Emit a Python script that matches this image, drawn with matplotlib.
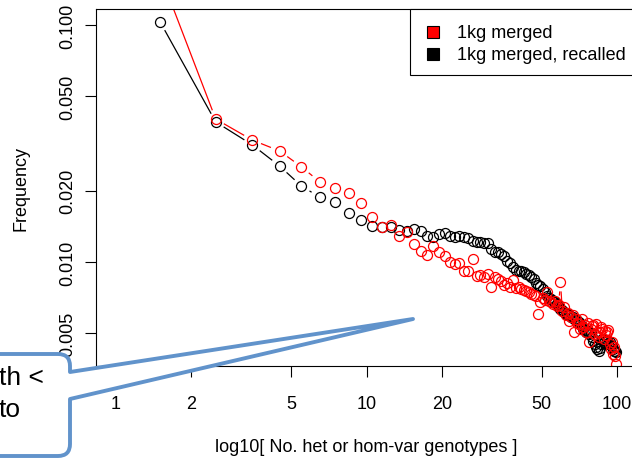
import numpy as np
import matplotlib
matplotlib.use("Agg")
import matplotlib.pyplot as plt
from matplotlib.path import Path
from matplotlib.patches import PathPatch, Rectangle

plt.rcParams['font.family'] = ['Liberation Sans', 'DejaVu Sans']

# ---- data ----
x_vals = [1.5, 2.5, 3.5, 4.5, 5.5, 6.5, 7.5, 8.5, 9.5, 10.5,
          11.5, 12.5, 13.5, 14.5, 15.5, 16.5, 17.5, 18.5, 19.5, 20.5,
          21.5, 22.5, 23.5, 24.5, 25.5, 26.5, 27.5, 28.5, 29.5, 30.5,
          31.5, 32.5, 33.5, 34.5, 35.5, 36.5, 37.5, 38.5, 39.5, 40.5,
          41.5, 42.5, 43.5, 44.5, 45.5, 46.5, 47.5, 48.5, 49.5, 50.5,
          51.5, 52.5, 53.5, 54.5, 55.5, 56.5, 57.5, 58.5, 59.5, 60.5,
          61.5, 62.5, 63.5, 64.5, 65.5, 66.5, 67.5, 68.5, 69.5, 70.5,
          71.5, 72.5, 73.5, 74.5, 75.5, 76.5, 77.5, 78.5, 79.5, 80.5,
          81.5, 82.5, 83.5, 84.5, 85.5, 86.5, 87.5, 88.5, 89.5, 90.5,
          91.5, 92.5, 93.5, 94.5, 95.5, 96.5, 97.5, 98.5, 99.5]

merged = [0.164, 0.0401, 0.0327, 0.0294, 0.0252, 0.0218, 0.0205, 0.0195, 0.0177, 0.0155,
          0.0141, 0.0143, 0.0129, 0.0134, 0.0119, 0.0111, 0.0107, 0.0117, 0.0110, 0.0106,
          0.0100, 0.00981, 0.00990, 0.00916, 0.00916, 0.0103, 0.00873, 0.00882, 0.00865, 0.00890,
          0.00784, 0.00865, 0.00848, 0.00831, 0.00800, 0.00815, 0.00784, 0.00840, 0.00777, 0.00784,
          0.00769, 0.00762, 0.00755, 0.00747, 0.00733, 0.00726, 0.00719, 0.00603, 0.00678, 0.00705,
          0.00691, 0.00747, 0.00685, 0.00678, 0.00665, 0.00685, 0.00652, 0.00659, 0.00823, 0.00621,
          0.00646, 0.00598, 0.00609, 0.00564, 0.00586, 0.00598, 0.00506, 0.00575, 0.00553, 0.00547,
          0.00522, 0.00575, 0.00532, 0.00542, 0.00506, 0.00553, 0.00460, 0.00522, 0.00537, 0.00542,
          0.00497, 0.00547, 0.00506, 0.00483, 0.00506, 0.00532, 0.00522, 0.00473, 0.00511, 0.00492,
          0.00506, 0.00516, 0.00451, 0.00430, 0.00460, 0.00409, 0.00438, 0.00401, 0.00371]

recalled = [0.103, 0.0390, 0.0312, 0.0254, 0.0209, 0.0188, 0.0179, 0.0161, 0.0150, 0.0142,
            0.0141, 0.0141, 0.0137, 0.0135, 0.0138, 0.0135, 0.0129, 0.0127, 0.0131, 0.0133,
            0.0129, 0.0127, 0.0129, 0.0127, 0.0126, 0.0123, 0.0121, 0.0121, 0.0120, 0.0120,
            0.0113, 0.0110, 0.0110, 0.0108, 0.0106, 0.0101, 0.00990, 0.00953, 0.00925, 0.00916,
            0.00916, 0.00907, 0.00890, 0.00882, 0.00865, 0.00848, 0.00815, 0.00800, 0.00792, 0.00769,
            0.00747, 0.00719, 0.00705, 0.00698, 0.00685, 0.00678, 0.00665, 0.00646, 0.00634, 0.00627,
            0.00615, 0.00603, 0.00603, 0.00598, 0.00586, 0.00586, 0.00575, 0.00575, 0.00564, 0.00558,
            0.00547, 0.00537, 0.00522, 0.00516, 0.00506, 0.00511, 0.00497, 0.00501, 0.00483, 0.00464,
            0.00451, 0.00438, 0.00430, 0.00421, 0.00434, 0.00451, 0.00473, 0.00460, 0.00464, 0.00451,
            0.00469, 0.00451, 0.00460, 0.00447, 0.00442, 0.00430, 0.00421, 0.00421, 0.00417]

series_labels = ["1kg merged", "1kg merged, recalled"]
series_colors = ["#FF0000", "#000000"]
x_ticks = [1, 2, 5, 10, 20, 50, 100]
x_ticklabels = ["1", "2", "5", "10", "20", "50", "100"]
y_ticks = [0.005, 0.010, 0.020, 0.050, 0.100]
y_ticklabels = ["0.005", "0.010", "0.020", "0.050", "0.100"]

W, H = 632, 460
AX_L, AX_R, AX_T, AX_B = 96, 637, 10, 367
fig = plt.figure(figsize=(W / 100, H / 100), dpi=100)
ax = fig.add_axes([AX_L / W, (H - AX_B) / H, (AX_R - AX_L) / W, (AX_B - AX_T) / H])
ax.set_xscale('log')
ax.set_yscale('log')
ax.set_xlim(10 ** -0.08, 10 ** 2.08)
ax.set_ylim(10 ** -2.4388, 10 ** -0.9325)

for sp in ax.spines.values():
    sp.set_linewidth(0.8)

ax.set_xticks(x_ticks)
ax.set_xticklabels(x_ticklabels)
ax.set_yticks(y_ticks)
ax.set_yticklabels(y_ticklabels, rotation=90, va='center')
ax.minorticks_off()
ax.tick_params(axis='both', direction='out', length=8, width=0.8, labelsize=13)
ax.tick_params(axis='x', pad=13)
ax.tick_params(axis='y', pad=6.5)
ax.set_xlabel("log10[ No. het or hom-var genotypes ]", fontsize=13, labelpad=18.5)
ax.set_ylabel("Frequency", fontsize=13, labelpad=21)


def type_b(xs, ys, color, gap=10.0):
    pts = ax.transData.transform(np.column_stack([xs, ys]))
    inv = ax.transData.inverted()
    for (x0, y0), (x1, y1) in zip(pts[:-1], pts[1:]):
        dx, dy = x1 - x0, y1 - y0
        d = np.hypot(dx, dy)
        if d > 2 * gap:
            ux, uy = dx / d, dy / d
            seg = inv.transform([[x0 + ux * gap, y0 + uy * gap],
                                 [x1 - ux * gap, y1 - uy * gap]])
            ax.plot(seg[:, 0], seg[:, 1], color=color, lw=0.9)
    ax.plot(xs, ys, linestyle='none', marker='o', markersize=7.2,
            markerfacecolor='none', markeredgecolor=color, markeredgewidth=0.9)


type_b(x_vals, recalled, series_colors[1])
type_b(x_vals, merged, series_colors[0])


# ---- legend (R style, top right) ----
def axfrac(px, py):
    return ((px - AX_L) / (AX_R - AX_L), (AX_B - py) / (AX_B - AX_T))

lx0, ly0 = axfrac(410, 76)
lx1, ly1 = axfrac(AX_R, AX_T)
ax.add_patch(Rectangle((lx0, ly0), lx1 - lx0, ly1 - ly0, transform=ax.transAxes,
                       facecolor='white', edgecolor='black', linewidth=0.8,
                       clip_on=False, zorder=5))
for i, (lab, col) in enumerate(zip(series_labels, series_colors)):
    mx, my = axfrac(433, 33 + 22 * i)
    tx, _ = axfrac(457, 33)
    ax.plot([mx], [my], transform=ax.transAxes, marker='s', markersize=8.5,
            markerfacecolor=col, markeredgecolor='black', markeredgewidth=0.8,
            linestyle='none', clip_on=False, zorder=6)
    ax.text(tx, my, lab, transform=ax.transAxes, fontsize=13, ha='left',
            va='center', zorder=6)

# ---- callout overlay (image pixel coordinates) ----
def P(x, y):
    return (x / W, 1 - y / H)

verts = [P(-20, 355), P(58, 355), P(70, 355), P(70, 367), P(70, 373),
         P(413, 320), P(70, 400), P(70, 445), P(70, 457), P(58, 457),
         P(-20, 457), P(-20, 355)]
codes = [Path.MOVETO, Path.LINETO, Path.CURVE3, Path.CURVE3, Path.LINETO,
         Path.LINETO, Path.LINETO, Path.LINETO, Path.CURVE3, Path.CURVE3,
         Path.LINETO, Path.CLOSEPOLY]
callout = PathPatch(Path(verts, codes), transform=fig.transFigure,
                    facecolor='white', edgecolor='#6193CB', linewidth=2.8,
                    joinstyle='round', zorder=10)
fig.patches.append(callout)
fig.text(-1 / W, 1 - 378 / H, "th <", fontsize=19, ha='left', va='center', zorder=11)
fig.text(-1 / W, 1 - 410 / H, "to", fontsize=19, ha='left', va='center', zorder=11)

fig.savefig("out.png", dpi=100)
